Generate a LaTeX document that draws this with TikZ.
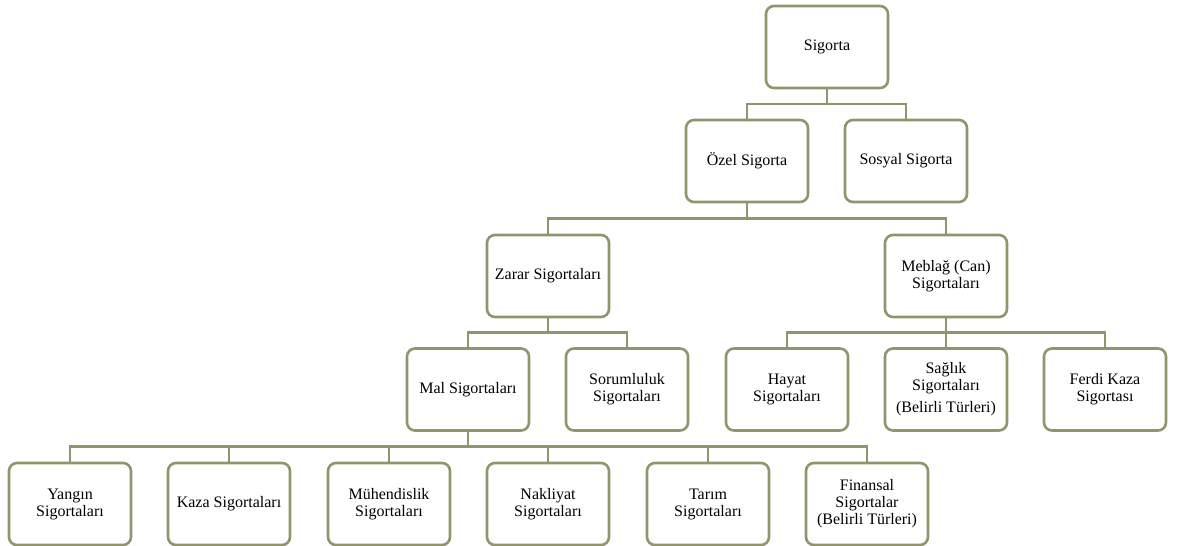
\documentclass[tikz,border=0pt]{standalone}
\usepackage{fontspec}
\setmainfont{Liberation Serif}
\usepackage{tikz}
\usetikzlibrary{positioning,calc}
\definecolor{olivegray}{RGB}{148,148,108}

\begin{document}
\begin{tikzpicture}[x=1pt,y=-1pt,
  box/.style={draw=olivegray, line width=2.6pt, rounded corners=8pt, fill=white,
    minimum width=122pt, minimum height=82pt, align=center, font=\fontsize{16}{17}\selectfont},
  conn/.style={draw=olivegray, line width=2.6pt}]
\useasboundingbox (0,0) rectangle (1187,546);
% Level 1
\node[box] (sig) at (827,47) {Sigorta};
% Level 2
\node[box] (ozel) at (747,161) {Özel Sigorta};
\node[box] (sosyal) at (906,161) {Sosyal Sigorta};
% Level 3
\node[box] (zarar) at (548,276) {Zarar Sigortaları};
\node[box] (meblag) at (946,276) {Meblağ (Can)\\Sigortaları};
% Level 4
\node[box] (mal) at (468,389.5) {Mal Sigortaları};
\node[box] (sorum) at (627,389.5) {Sorumluluk\\Sigortaları};
\node[box] (hayat) at (787,389.5) {Hayat\\Sigortaları};
\node[box] (saglik) at (946,389.5) {Sağlık\\Sigortaları\\[5pt](Belirli Türleri)};
\node[box] (ferdi) at (1105,389.5) {Ferdi Kaza\\Sigortası};
% Level 5
\node[box] (yangin) at (70,504) {Yangın\\Sigortaları};
\node[box] (kaza) at (229,504) {Kaza Sigortaları};
\node[box] (muh) at (389,504) {Mühendislik\\Sigortaları};
\node[box] (nak) at (548,504) {Nakliyat\\Sigortaları};
\node[box] (tarim) at (708,504) {Tarım\\Sigortaları};
\node[box] (fin) at (867,504) {Finansal\\Sigortalar\\(Belirli Türleri)};
% Connectors (elbow lines, bar midway between levels)
\foreach \p/\c in {sig/ozel, sig/sosyal, ozel/zarar, ozel/meblag,
    zarar/mal, zarar/sorum, meblag/hayat, meblag/saglik, meblag/ferdi,
    mal/yangin, mal/kaza, mal/muh, mal/nak, mal/tarim, mal/fin} {
  \draw[conn] (\p.south) -- ($(\p.south)!0.5!(\p.south |- \c.north)$) -| (\c.north);
}
\end{tikzpicture}
\end{document}
